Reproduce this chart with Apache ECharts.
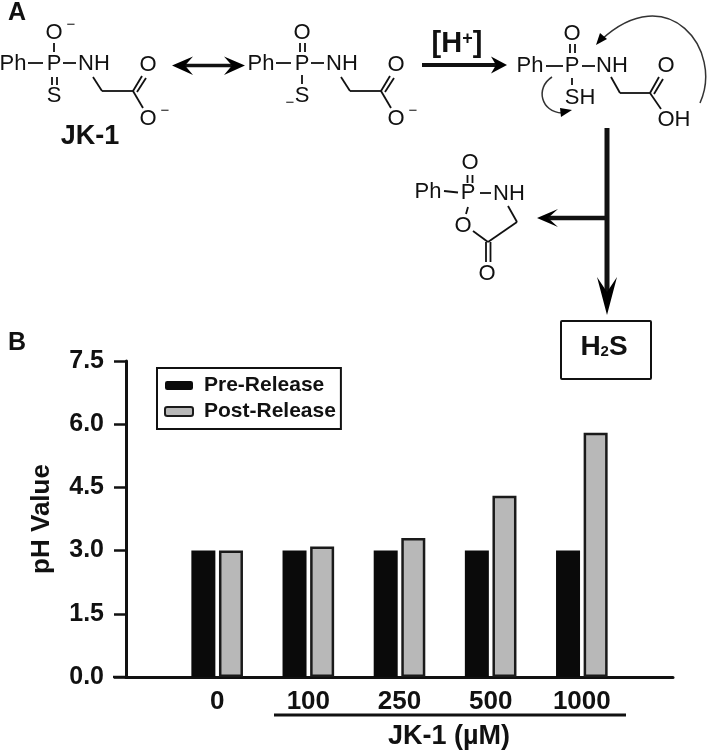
<!DOCTYPE html>
<html>
<head>
<meta charset="utf-8">
<style>
    html, body { margin: 0; padding: 0; background: #fff; }
    #chart { width: 709px; height: 752px; }
</style>
<script src="https://cdn.jsdelivr.net/npm/echarts@6/dist/echarts.min.js"></script>
</head>
<body>
<div id="chart"></div>
<script>
    const categories = ['0', '100', '250', '500', '1000']
    const preRelease = [3.0, 3.0, 3.0, 3.0, 3.0]
    const postRelease = [3.0, 3.1, 3.3, 4.3, 5.8]

    const FONT = '"Liberation Sans", Arial, sans-serif'
    const INK = '#111'
    const CHEM = 22

    // 反应式部分的小工具
    function label(x, y, text, size, bold, extra) {
        return {
            type: 'text', x: x, y: y, silent: true,
            style: Object.assign({
                text: text, fontFamily: FONT, fontSize: size,
                fontWeight: bold ? 'bold' : 'normal', fill: INK,
                align: 'center', verticalAlign: 'middle'
            }, extra || {})
        }
    }
    function bond(x1, y1, x2, y2, w) {
        return {
            type: 'line', silent: true,
            shape: { x1: x1, y1: y1, x2: x2, y2: y2 },
            style: { stroke: INK, lineWidth: w || 1.8 }
        }
    }
    function head(points) {
        return { type: 'polygon', silent: true, shape: { points: points }, style: { fill: '#000' } }
    }
    function curve(x1, y1, c1x, c1y, c2x, c2y, x2, y2) {
        return {
            type: 'bezierCurve', silent: true,
            shape: { x1: x1, y1: y1, cpx1: c1x, cpy1: c1y, cpx2: c2x, cpy2: c2y, x2: x2, y2: y2 },
            style: { stroke: '#333', lineWidth: 1.5, fill: null }
        }
    }

    // JK-1 两个共振式共用的骨架
    function jk1(dx) {
        return [
            label(13 + dx, 64, 'Ph', CHEM),
            bond(28 + dx, 63, 43 + dx, 63),
            label(54 + dx, 64, 'P', CHEM),
            bond(63 + dx, 63, 76 + dx, 63),
            label(94 + dx, 64, 'NH', CHEM),
            bond(93 + dx, 77, 102 + dx, 91),
            bond(102 + dx, 91, 133 + dx, 91),
            bond(133 + dx, 91, 142 + dx, 76),
            bond(137 + dx, 92, 146 + dx, 78),
            bond(133 + dx, 91, 143 + dx, 108),
            label(148 + dx, 65, 'O', CHEM),
            label(148 + dx, 119, 'O', CHEM)
        ]
    }

    const scheme = [
        label(17, 13, 'A', 25, true),
        label(17, 343, 'B', 25, true),

        // JK-1
        ...jk1(0),
        label(54, 33, 'O', CHEM),
        label(71, 25, '\u2212', 15),
        bond(54, 43, 54, 52),
        bond(52, 77, 52, 85),
        bond(57, 77, 57, 85),
        label(54, 96, 'S', CHEM),
        label(165, 111, '\u2212', 15),
        label(90, 137, 'JK-1', 27, true),

        // 双向箭头
        bond(180, 65.5, 237, 65.5, 3.5),
        head([[172, 65.5], [193, 56.5], [185, 65.5], [193, 75]]),
        head([[245, 65.5], [224, 56.5], [232, 65.5], [224, 75]]),

        // 共振式
        ...jk1(248),
        label(302, 33, 'O', CHEM),
        bond(300, 43, 300, 52),
        bond(305, 43, 305, 52),
        bond(302, 75, 302, 84),
        label(302, 96, 'S', CHEM),
        label(290, 103, '\u2212', 15),
        label(413, 111, '\u2212', 15),

        // [H+]
        {
            type: 'text', x: 457, y: 44, silent: true,
            style: {
                text: '{b|[H}{s|+}{b|]}', align: 'center', verticalAlign: 'middle', fill: INK,
                rich: {
                    b: { fontFamily: FONT, fontSize: 29, fontWeight: 'bold', fill: INK },
                    s: { fontFamily: FONT, fontSize: 18, fontWeight: 'bold', fill: INK, padding: [0, 0, 10, 0] }
                }
            }
        },
        bond(422, 65, 498, 65, 4),
        head([[507, 65], [491, 56.5], [496, 65], [491, 73.5]]),

        // 质子化产物
        label(530, 66, 'Ph', CHEM),
        bond(546, 66, 563, 66),
        label(572, 66, 'P', CHEM),
        label(572, 34, 'O', CHEM),
        bond(570, 44, 570, 53),
        bond(575, 44, 575, 53),
        bond(582, 66, 595, 66),
        label(612, 66, 'NH', CHEM),
        bond(572, 78, 572, 85),
        label(580, 98, 'SH', CHEM),
        bond(611, 77, 620, 93),
        bond(620, 93, 650, 93),
        bond(650, 93, 659, 77),
        bond(654, 94, 663, 79),
        label(666, 66, 'O', CHEM),
        bond(650, 93, 661, 109),
        label(674, 120, 'OH', CHEM),

        // 弯箭头
        curve(700, 103, 724, 50, 668, -22, 601, 40),
        head([[596, 45], [600, 33], [607, 39]]),
        curve(552, 77, 535, 88, 541, 112, 562, 113),
        head([[572, 110], [560, 108], [561, 117]]),

        // 环状产物
        label(428, 192, 'Ph', CHEM),
        bond(444, 191, 458, 192.5),
        label(468, 193, 'P', CHEM),
        label(470, 163, 'O', CHEM),
        bond(467.5, 175, 467.5, 183),
        bond(472.5, 175, 472.5, 183),
        bond(480, 193, 491, 193),
        label(509, 194, 'NH', CHEM),
        bond(508, 206, 517, 222),
        bond(517, 222, 488, 242),
        bond(488, 242, 473, 231),
        label(463, 226, 'O', CHEM),
        bond(468, 207, 466, 214),
        bond(486, 242, 486, 262),
        bond(490.5, 242, 490.5, 262),
        label(487, 274, 'O', CHEM),

        // 反应主箭头
        bond(607, 128, 607, 296, 5),
        head([[607, 315], [597, 277], [607, 292], [617, 277]]),
        bond(607, 218, 546, 218, 4.5),
        head([[537, 218], [558, 209], [548, 218], [558, 227]]),

        // H2S 方框
        {
            type: 'rect', silent: true,
            shape: { x: 561, y: 321, width: 90, height: 58, r: 1 },
            style: { fill: '#fff', stroke: INK, lineWidth: 2 }
        },
        {
            type: 'text', x: 604, y: 347, silent: true,
            style: {
                text: '{b|H}{s|2}{b|S}', align: 'center', verticalAlign: 'middle', fill: INK,
                rich: {
                    b: { fontFamily: FONT, fontSize: 28, fontWeight: 'bold', fill: INK },
                    s: { fontFamily: FONT, fontSize: 15, fontWeight: 'bold', fill: INK, padding: [9, 0, 0, 0] }
                }
            }
        },

        // 0 刻度向左的短线
        bond(113, 677, 126, 677, 2.5),

        // 横轴下方的分组线
        bond(274, 715, 626, 715, 3),
        label(449, 737, 'JK-1 (\u00b5M)', 27, true)
    ]

    const myChart = echarts.init(document.getElementById('chart'), null, { renderer: 'canvas' })
    myChart.setOption({
        animation: false,
        backgroundColor: '#fff',
        textStyle: { fontFamily: FONT },
        legend: {
            left: 157, top: 368,
            orient: 'vertical',
            itemWidth: 28, itemHeight: 9, itemGap: 5,
            padding: [7, 5, 7, 7],
            borderColor: INK, borderWidth: 2,
            selectedMode: false,
            textStyle: { fontSize: 21, fontWeight: 'bold', color: INK, fontFamily: FONT, padding: [0, 0, 0, 6] },
            data: ['Pre-Release', 'Post-Release']
        },
        grid: { left: 126, right: 36, top: 361, bottom: 75, containLabel: false },
        xAxis: {
            type: 'value', min: -1, max: 5, interval: 1,
            axisLine: { onZero: false, lineStyle: { color: INK, width: 3 } },
            axisTick: { show: false },
            splitLine: { show: false },
            axisLabel: {
                margin: 12, fontSize: 26, fontWeight: 'bold', color: INK, fontFamily: FONT,
                showMaxLabel: false, showMinLabel: false,
                formatter: v => categories[v] === undefined ? '' : categories[v]
            }
        },
        yAxis: {
            type: 'value', min: 0, max: 7.5, interval: 1.5,
            name: 'pH Value', nameLocation: 'middle', nameGap: 71, nameRotate: 90,
            nameTextStyle: { fontSize: 26, fontWeight: 'bold', color: INK, fontFamily: FONT },
            axisLine: { show: true, onZero: false, lineStyle: { color: INK, width: 3 } },
            axisTick: { show: true, length: 12, lineStyle: { color: INK, width: 2.5 } },
            splitLine: { show: false },
            axisLabel: {
                margin: 22, fontSize: 25, fontWeight: 'bold', color: INK, fontFamily: FONT,
                formatter: v => v.toFixed(1)
            }
        },
        series: [
            {
                name: 'Pre-Release', type: 'bar', barWidth: 24, barGap: '15%',
                itemStyle: { color: '#0a0a0a', borderColor: '#0a0a0a', borderWidth: 0 },
                data: preRelease.map((v, i) => [i, v])
            },
            {
                name: 'Post-Release', type: 'bar', barWidth: 24, barGap: '15%',
                itemStyle: { color: '#b8b8b8', borderColor: '#1a1a1a', borderWidth: 2.5 },
                data: postRelease.map((v, i) => [i, v])
            }
        ],
        graphic: { elements: scheme }
    })
</script>
</body>
</html>
